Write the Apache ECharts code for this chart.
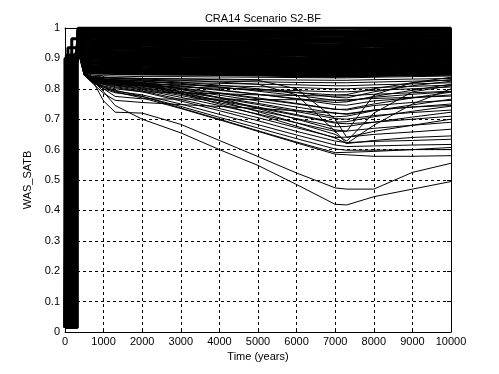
<!DOCTYPE html>
<html>
<head>
<meta charset="utf-8">
<script src="https://cdn.jsdelivr.net/npm/echarts@6/dist/echarts.min.js"></script>
<style>html,body{margin:0;padding:0;background:#fff}#c{width:499px;height:374px}</style>
</head>
<body>
<div id="c"></div>
<script>
// shared time grid (years) for every realization after the initial jump
const years = [340,500,700,1000,1300,2000,3000,4000,5000,6000,7000,7300,8000,9000,10000];
const baseLevel = 0.015;
const holdYear = 320;

// dense upper band of realizations
const bandRuns = [
[1,1,1,1,1,1,1,1,1,1,1,1,1,1,1],
[0.997,0.993,0.993,0.992,0.993,0.992,0.993,0.992,0.991,0.992,0.991,0.991,0.992,0.993,0.993],
[0.994,0.986,0.986,0.985,0.985,0.986,0.985,0.984,0.985,0.984,0.983,0.984,0.985,0.985,0.986],
[0.991,0.98,0.979,0.979,0.978,0.979,0.978,0.977,0.977,0.976,0.976,0.977,0.978,0.978,0.979],
[0.988,0.973,0.973,0.972,0.972,0.971,0.971,0.97,0.97,0.969,0.968,0.969,0.97,0.971,0.972],
[0.985,0.966,0.966,0.965,0.964,0.964,0.963,0.963,0.962,0.961,0.96,0.961,0.962,0.963,0.964],
[0.982,0.96,0.959,0.958,0.958,0.957,0.956,0.955,0.955,0.954,0.953,0.953,0.955,0.956,0.957],
[0.979,0.953,0.952,0.951,0.951,0.95,0.949,0.948,0.947,0.946,0.945,0.946,0.947,0.949,0.95],
[0.976,0.946,0.945,0.944,0.944,0.943,0.942,0.941,0.94,0.939,0.938,0.938,0.94,0.941,0.943],
[0.973,0.94,0.939,0.938,0.937,0.936,0.935,0.934,0.933,0.932,0.93,0.931,0.932,0.934,0.936],
[0.97,0.933,0.932,0.931,0.93,0.929,0.928,0.927,0.926,0.924,0.923,0.923,0.925,0.927,0.929],
[0.967,0.926,0.925,0.924,0.923,0.922,0.921,0.92,0.918,0.917,0.915,0.916,0.918,0.92,0.922],
[0.964,0.92,0.918,0.917,0.917,0.916,0.914,0.913,0.911,0.91,0.908,0.909,0.911,0.913,0.915],
[0.961,0.913,0.911,0.91,0.91,0.909,0.907,0.906,0.904,0.902,0.901,0.901,0.904,0.906,0.908],
[0.958,0.906,0.904,0.903,0.903,0.902,0.9,0.899,0.897,0.895,0.893,0.894,0.896,0.899,0.901],
[0.955,0.9,0.897,0.896,0.896,0.895,0.893,0.892,0.89,0.888,0.886,0.887,0.889,0.892,0.894],
[0.952,0.893,0.89,0.889,0.889,0.888,0.886,0.885,0.883,0.881,0.879,0.88,0.882,0.885,0.887],
[0.949,0.886,0.884,0.883,0.882,0.881,0.879,0.878,0.876,0.874,0.872,0.873,0.875,0.878,0.88],
[0.946,0.88,0.877,0.876,0.875,0.874,0.872,0.871,0.869,0.867,0.865,0.866,0.868,0.871,0.873],
[0.943,0.873,0.87,0.869,0.868,0.867,0.866,0.864,0.862,0.86,0.858,0.859,0.861,0.864,0.866],
[0.94,0.866,0.864,0.862,0.862,0.861,0.86,0.858,0.856,0.854,0.852,0.853,0.855,0.858,0.86],
[0.936,0.86,0.858,0.857,0.856,0.855,0.854,0.852,0.85,0.848,0.846,0.847,0.849,0.852,0.854],
[0.933,0.856,0.852,0.851,0.85,0.849,0.848,0.847,0.845,0.843,0.841,0.842,0.844,0.846,0.848]
];

// middle layer, nearly flat
const midRuns = [
[0.93,0.855,0.845,0.843,0.842,0.84,0.84,0.839,0.838,0.837,0.836,0.836,0.838,0.84,0.842],
[0.93,0.852,0.84,0.838,0.836,0.834,0.833,0.832,0.83,0.829,0.828,0.828,0.83,0.832,0.834],
[0.93,0.85,0.836,0.832,0.83,0.828,0.826,0.825,0.823,0.821,0.82,0.82,0.822,0.825,0.828],
[0.93,0.848,0.833,0.828,0.825,0.822,0.82,0.818,0.815,0.813,0.81,0.81,0.813,0.816,0.82],
[0.93,0.847,0.83,0.825,0.82,0.816,0.813,0.81,0.807,0.804,0.8,0.8,0.804,0.808,0.812],
[0.93,0.846,0.828,0.82,0.815,0.81,0.806,0.802,0.798,0.794,0.79,0.79,0.795,0.8,0.806],
[0.93,0.845,0.825,0.81,0.8,0.79,0.787,0.784,0.78,0.778,0.776,0.777,0.782,0.787,0.792],
[0.93,0.845,0.822,0.8,0.775,0.767,0.766,0.766,0.765,0.764,0.763,0.764,0.768,0.772,0.776]
];

// realizations that sag towards a minimum near 7000 years
const fallRuns = [
[0.93,0.85,0.835,0.83,0.828,0.825,0.815,0.805,0.795,0.787,0.78,0.781,0.8,0.82,0.838],
[0.93,0.85,0.834,0.828,0.825,0.82,0.808,0.795,0.782,0.768,0.755,0.757,0.775,0.795,0.815],
[0.93,0.849,0.833,0.826,0.822,0.815,0.8,0.785,0.767,0.75,0.732,0.733,0.75,0.77,0.789],
[0.93,0.849,0.832,0.824,0.82,0.81,0.792,0.772,0.752,0.73,0.708,0.71,0.728,0.747,0.766],
[0.93,0.848,0.831,0.822,0.816,0.805,0.785,0.763,0.74,0.715,0.69,0.692,0.708,0.726,0.743],
[0.93,0.848,0.83,0.82,0.812,0.8,0.778,0.754,0.728,0.702,0.675,0.676,0.69,0.707,0.723],
[0.93,0.847,0.828,0.818,0.81,0.797,0.772,0.745,0.717,0.688,0.66,0.661,0.67,0.68,0.69],
[0.93,0.847,0.827,0.816,0.807,0.793,0.765,0.735,0.705,0.672,0.64,0.641,0.65,0.658,0.667],
[0.93,0.846,0.826,0.814,0.804,0.79,0.76,0.728,0.695,0.66,0.628,0.623,0.627,0.63,0.634],
[0.93,0.846,0.825,0.805,0.792,0.78,0.75,0.716,0.682,0.648,0.615,0.61,0.612,0.615,0.617],
[0.93,0.845,0.824,0.8,0.787,0.775,0.742,0.706,0.671,0.636,0.602,0.598,0.598,0.6,0.6],
[0.93,0.845,0.823,0.808,0.795,0.775,0.737,0.7,0.662,0.625,0.59,0.591,0.594,0.6,0.607],
[0.93,0.85,0.835,0.83,0.826,0.82,0.8,0.77,0.735,0.7,0.665,0.66,0.78,0.82,0.83],
[0.93,0.85,0.835,0.828,0.825,0.815,0.79,0.76,0.725,0.688,0.65,0.628,0.72,0.79,0.81],
[0.93,0.848,0.832,0.826,0.822,0.812,0.785,0.75,0.715,0.677,0.638,0.62,0.68,0.75,0.8],
[0.93,0.85,0.84,0.838,0.836,0.834,0.832,0.83,0.828,0.8,0.7,0.64,0.66,0.68,0.7],
[0.93,0.85,0.84,0.837,0.835,0.832,0.828,0.822,0.815,0.78,0.66,0.62,0.63,0.64,0.645],
[0.93,0.852,0.84,0.836,0.834,0.83,0.822,0.812,0.8,0.788,0.772,0.77,0.79,0.81,0.825],
[0.93,0.85,0.838,0.833,0.83,0.826,0.818,0.806,0.792,0.778,0.762,0.76,0.772,0.782,0.79],
[0.93,0.85,0.836,0.83,0.826,0.82,0.81,0.797,0.782,0.766,0.748,0.746,0.76,0.77,0.78],
[0.93,0.849,0.834,0.827,0.823,0.816,0.803,0.787,0.77,0.752,0.733,0.73,0.745,0.755,0.762],
[0.93,0.849,0.833,0.825,0.82,0.812,0.797,0.779,0.76,0.74,0.72,0.716,0.73,0.74,0.745],
[0.93,0.848,0.832,0.823,0.817,0.808,0.79,0.77,0.748,0.725,0.702,0.7,0.712,0.722,0.73],
[0.93,0.848,0.83,0.82,0.813,0.803,0.782,0.76,0.737,0.712,0.687,0.685,0.69,0.7,0.71],
[0.93,0.845,0.82,0.785,0.762,0.755,0.748,0.742,0.735,0.728,0.72,0.718,0.73,0.74,0.75],
[0.93,0.845,0.822,0.805,0.79,0.77,0.735,0.698,0.66,0.622,0.585,0.583,0.578,0.578,0.58]
];

// the two lowest realizations
const lowRuns = [
[0.93,0.85,0.83,0.76,0.723,0.72,0.683,0.63,0.577,0.523,0.474,0.47,0.47,0.525,0.555],
[0.93,0.85,0.83,0.79,0.745,0.7,0.655,0.6,0.548,0.485,0.42,0.418,0.445,0.47,0.495]
];

// year of the early jump and the level it jumps to, one per realization
const startYears = [0,25,50,75,100,125,150,175,200,225,250,275,300,320,
10,35,60,85,110,135,160,185,210,235,260,285,310,318,
5,30,55,80,105,130,155,180,205,230,255,280,305,315,
15,40,65,90,115,140,165,190,215,240,265,290,312,
20,45,70,95];
const jumpLevels = [0.9,0.9,0.91,0.935,0.9,0.89,0.9,0.965,0.9,0.91,0.9,0.9,0.92,0.9,
0.9,0.91,0.9,0.9,0.89,0.9,0.9,0.91,0.9,0.9,0.92,0.9,0.9,0.9,
0.9,0.9,0.91,0.9,0.9,0.9,0.89,0.9,0.91,0.9,0.9,0.9,0.92,0.9,
0.9,0.91,0.9,0.9,0.9,0.9,0.89,0.9,0.9,0.91,0.9,0.9,0.9,
0.9,0.9,0.9,0.9];

const xTickValues = [0,1000,2000,3000,4000,5000,6000,7000,8000,9000,10000];
const yTickValues = [0,0.1,0.2,0.3,0.4,0.5,0.6,0.7,0.8,0.9,1];

const FONT = 'Liberation Sans, Arial, sans-serif';
let idx = 0;
function makeSeries(run, width) {
  const i = idx++;
  const d = [[0, baseLevel], [startYears[i], baseLevel], [startYears[i], jumpLevels[i]], [holdYear, jumpLevels[i]]];
  for (let j = 0; j < years.length; j++) d.push([years[j], run[j]]);
  return {
    type: 'line', data: d, symbol: 'none', showSymbol: false, silent: true, clip: true,
    lineStyle: { color: '#000', width: width }, animation: false, z: 3
  };
}
const series = [];
bandRuns.forEach(r => series.push(makeSeries(r, 3)));
midRuns.forEach(r => series.push(makeSeries(r, 1)));
fallRuns.forEach(r => series.push(makeSeries(r, 1)));
lowRuns.forEach(r => series.push(makeSeries(r, 1)));

const chart = echarts.init(document.getElementById('c'), null, { renderer: 'canvas' });
const axisCommon = {
  axisLine: { show: true, onZero: false, lineStyle: { color: '#000', width: 1 } },
  axisTick: { show: true, inside: true, length: 4, lineStyle: { color: '#000' } }
};
chart.setOption({
  animation: false,
  backgroundColor: '#fff',
  title: {
    text: 'CRA14 Scenario S2-BF', left: 258, top: 8, textAlign: 'center',
    textStyle: { fontFamily: FONT, fontSize: 11, fontWeight: 'normal', color: '#000' }
  },
  grid: { left: 65, right: 48, top: 28, bottom: 42, containLabel: false },
  xAxis: [
    Object.assign({
      type: 'value', min: 0, max: 10000, interval: 1000, position: 'bottom',
      name: 'Time (years)', nameLocation: 'middle', nameGap: 19,
      nameTextStyle: { fontFamily: FONT, fontSize: 11, color: '#000' },
      axisLabel: { color: '#000', fontFamily: FONT, fontSize: 11, margin: 4,
        formatter: v => xTickValues.indexOf(v) >= 0 ? String(v) : '' },
      splitLine: { show: true, lineStyle: { color: '#000', type: [3, 3], width: 1 } }
    }, axisCommon),
    Object.assign({
      type: 'value', min: 0, max: 10000, interval: 1000, position: 'top',
      axisLabel: { show: false }, splitLine: { show: false }
    }, axisCommon)
  ],
  yAxis: [
    Object.assign({
      type: 'value', min: 0, max: 1, interval: 0.1, position: 'left',
      name: 'WAS_SATB', nameLocation: 'middle', nameGap: 28,
      nameTextStyle: { fontFamily: FONT, fontSize: 11, color: '#000' },
      axisLabel: { color: '#000', fontFamily: FONT, fontSize: 11, margin: 5,
        formatter: v => String(yTickValues[Math.round(v * 10)]) },
      splitLine: { show: true, lineStyle: { color: '#000', type: [3, 3], width: 1 } }
    }, axisCommon),
    Object.assign({
      type: 'value', min: 0, max: 1, interval: 0.1, position: 'right',
      axisLabel: { show: false }, splitLine: { show: false }
    }, axisCommon)
  ],
  series: series
});
</script>
</body>
</html>
